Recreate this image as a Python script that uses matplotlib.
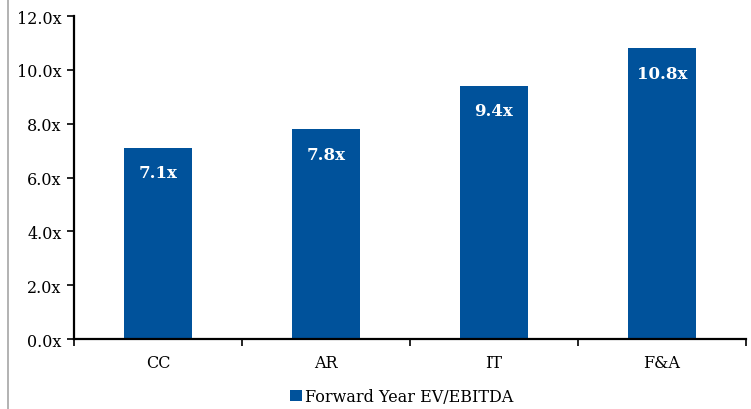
import matplotlib
matplotlib.use("Agg")
import matplotlib.pyplot as plt
from matplotlib.lines import Line2D
from matplotlib.ticker import FixedLocator

categories = ["CC", "AR", "IT", "F&A"]
values = [7.1, 7.8, 9.4, 10.8]
series_name = "Forward Year EV/EBITDA"
y_ticks = [0, 2, 4, 6, 8, 10, 12]

bar_color = "#00529B"
plt.rcParams["font.family"] = ["DejaVu Serif"]

fig = plt.figure(figsize=(7.51, 4.10), dpi=100)
ax = fig.add_axes([0.0985, 0.1707, 0.8948, 0.7878])

x = range(len(categories))
bars = ax.bar(x, values, width=0.4, color=bar_color, label=series_name)

for xi, v in zip(x, values):
    ax.annotate(f"{v:.1f}x", (xi, v), xytext=(0, -18), textcoords="offset points",
                ha="center", va="center", color="white", fontsize=12, fontweight="bold")

ax.set_xlim(-0.5, len(categories) - 0.5)
ax.set_ylim(0, 12)
ax.set_yticks(y_ticks)
ax.set_yticklabels([f"{t:.1f}x" for t in y_ticks], fontsize=11.5)
ax.set_xticks(list(x))
ax.set_xticklabels(categories, fontsize=11.5)
ax.xaxis.set_minor_locator(FixedLocator([i - 0.5 for i in range(len(categories) + 1)]))
ax.tick_params(axis="x", which="major", length=0, pad=11)
ax.tick_params(axis="x", which="minor", length=5, width=1.2, direction="out")
ax.tick_params(axis="y", length=5, width=1.2, direction="out", pad=4)

for side in ("top", "right"):
    ax.spines[side].set_visible(False)
ax.spines["left"].set_linewidth(1.6)
ax.spines["bottom"].set_linewidth(1.6)

fig.legend(handles=[bars], labels=[series_name], loc="center", bbox_to_anchor=(0.535, 0.03),
           frameon=False, fontsize=11.5, handlelength=0.7, handleheight=0.7, handletextpad=0.2)

fig.add_artist(Line2D([0.0107, 0.0107], [0, 1], color="#a6a6a6", linewidth=1.2,
                      transform=fig.transFigure))

fig.savefig("out.png", dpi=100)
